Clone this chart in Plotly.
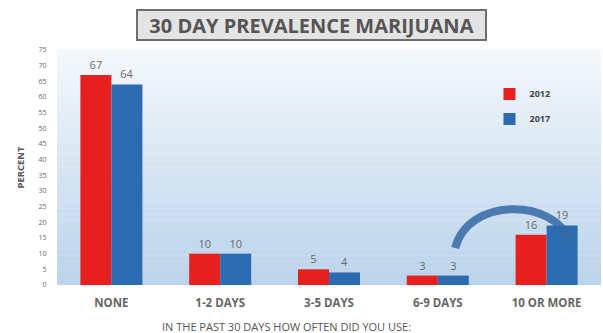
import plotly.graph_objects as go

# Survey data: share of students by number of days marijuana was used in the past 30 days
categories = ["NONE", "1-2 DAYS", "3-5 DAYS", "6-9 DAYS", "10 OR MORE"]
values_2012 = [67, 10, 5, 3, 16]
values_2017 = [64, 10, 4, 3, 19]
y_ticks = list(range(0, 80, 5))

RED = "#E6201F"
BLUE = "#2D6BB0"
LABEL = "#6a6a6a"
FONT = "Open Sans"

fig = go.Figure()
fig.add_trace(go.Bar(
    name="<b>2012</b>", x=categories, y=values_2012, marker=dict(color=RED, line=dict(width=0)),
    text=[str(v) for v in values_2012], textposition="outside", cliponaxis=False,
    textfont=dict(color=LABEL, size=11, family=FONT), legendgroup="a",
))
fig.add_trace(go.Bar(
    name="<b>2017</b>", x=categories, y=values_2017, marker=dict(color=BLUE, line=dict(width=0)),
    text=[str(v) for v in values_2017], textposition="outside", cliponaxis=False,
    textfont=dict(color=LABEL, size=11, family=FONT), legendgroup="b",
))

# Vertical gradient behind the plot area, white at the top to pale blue at the bottom
shapes = []
n = 40
top = (244, 248, 252)
bottom = (186, 211, 235)
for i in range(n):
    t = (i + 0.5) / n
    c = tuple(round(top[k] + (bottom[k] - top[k]) * t) for k in range(3))
    shapes.append(dict(
        type="rect", xref="paper", yref="paper", x0=0, x1=1,
        y0=1 - (i + 1) / n, y1=1 - i / n + 0.001,
        fillcolor="rgb(%d,%d,%d)" % c, line=dict(width=0), layer="below",
    ))

# Curved arrow from the 6-9 DAYS group up and over to the 10 OR MORE 2017 bar
shapes.append(dict(
    type="path", xref="paper", yref="y",
    path="M 0.732 11.8 C 0.755 28 0.915 28 0.943 13.7",
    line=dict(color="rgba(50,105,165,0.85)", width=8), layer="above",
))

fig.update_layout(
    width=603, height=333,
    margin=dict(l=57, r=2, t=50, b=48),
    paper_bgcolor="white", plot_bgcolor="rgba(0,0,0,0)",
    barmode="group", bargap=0.43, bargroupgap=0,
    font=dict(family=FONT, color="#555"),
    shapes=shapes,
    showlegend=True,
    legend=dict(
        x=0.795, y=0.875, xanchor="left", yanchor="top",
        bgcolor="rgba(0,0,0,0)", font=dict(size=9, color="#444", family=FONT),
        tracegroupgap=6, traceorder="grouped",
    ),
    annotations=[
        dict(
            text="<b>30 DAY PREVALENCE MARIJUANA</b>",
            xref="paper", yref="paper", x=(311 - 57) / 544, y=1, yshift=25,
            xanchor="center", yanchor="middle", showarrow=False,
            font=dict(size=20, color="#555", family=FONT),
            bgcolor="#e4e4e4", bordercolor="#6e6e6e", borderwidth=2,
            width=345, height=26,
        ),
        dict(
            text="IN THE PAST 30 DAYS HOW OFTEN DID YOU USE:",
            xref="paper", yref="paper", x=(286 - 57) / 544, y=0, yshift=-41,
            xanchor="center", yanchor="middle", showarrow=False,
            font=dict(size=11, color="#555", family=FONT),
        ),
    ],
)

fig.update_xaxes(
    showline=False, showgrid=False,
    ticks="outside", ticklen=7, tickcolor="rgba(0,0,0,0)",
    tickfont=dict(size=11.5, color="#666", family=FONT),
    tickprefix="<b>", ticksuffix="</b>",
)
fig.update_yaxes(
    range=[0, 75], tickvals=y_ticks, showgrid=False, zeroline=False, showline=False,
    ticks="outside", ticklen=8, tickcolor="rgba(0,0,0,0)",
    tickprefix="<b>", ticksuffix="</b>",
    tickfont=dict(size=7, color="#666", family=FONT),
    title=dict(text="<b>PERCENT</b>", font=dict(size=9.5, color="#555", family=FONT), standoff=12),
)

fig.write_html("out.html")
